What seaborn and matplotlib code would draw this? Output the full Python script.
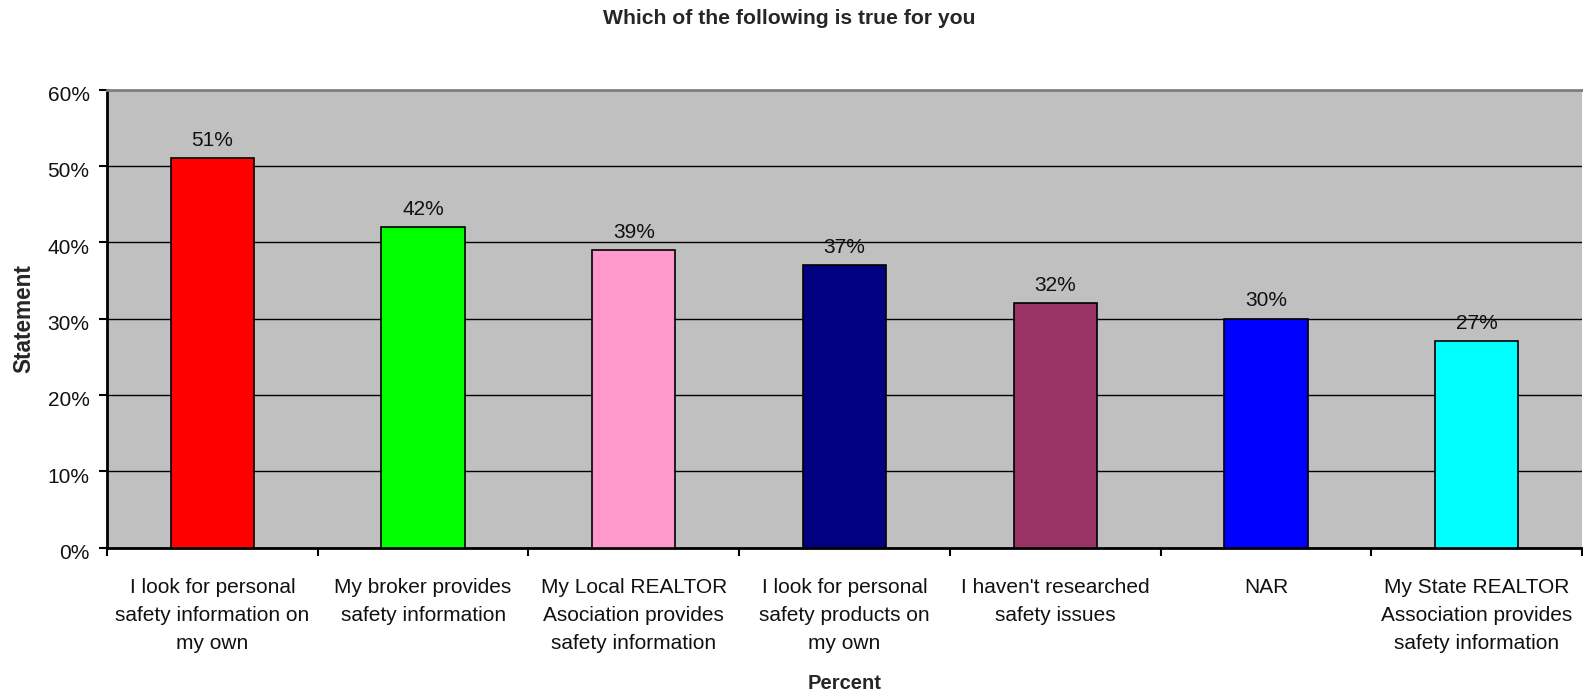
import matplotlib
matplotlib.use("Agg")
import matplotlib.pyplot as plt
import matplotlib.transforms as mtransforms
import seaborn as sns
import pandas as pd
from matplotlib.ticker import FuncFormatter, MultipleLocator, FixedLocator

categories = [
    "I look for personal\nsafety information on\nmy own",
    "My broker provides\nsafety information",
    "My Local REALTOR\nAsociation provides\nsafety information",
    "I look for personal\nsafety products on\nmy own",
    "I haven't researched\nsafety issues",
    "NAR",
    "My State REALTOR\nAssociation provides\nsafety information",
]
values = [51, 42, 39, 37, 32, 30, 27]
bar_colors = ["#FF0000", "#00FF00", "#FF99CC", "#000080", "#993366", "#0000FF", "#00FFFF"]

df = pd.DataFrame({"statement": categories, "percent": values})

sns.set_theme(style="white")
plt.rcParams["font.family"] = ["Liberation Sans", "DejaVu Sans"]

W, H = 1583, 694
fig = plt.figure(figsize=(W / 100, H / 100), dpi=100)
ax = fig.add_axes([107 / W, 1 - 547.5 / H, 1475 / W, 458 / H])
ax.set_facecolor("#C0C0C0")

sns.barplot(data=df, x="statement", y="percent", hue="statement",
            palette=bar_colors, saturation=1, legend=False, width=0.395,
            edgecolor="black", linewidth=1.2, ax=ax, zorder=3)

ax.set_ylim(0, 60)
ax.set_xlim(-0.5, len(categories) - 0.5)
ax.yaxis.set_major_locator(MultipleLocator(10))
ax.yaxis.set_major_formatter(FuncFormatter(lambda v, p: f"{v:.0f}%"))
ax.grid(axis="y", color="black", linewidth=1.0, zorder=1)
ax.set_axisbelow(True)

# category labels centred under bars; tick marks at category boundaries
ax.tick_params(axis="x", which="major", bottom=False, length=0, pad=22, labelsize=15)
ax.xaxis.set_minor_locator(FixedLocator([i - 0.5 for i in range(len(categories) + 1)]))
ax.tick_params(axis="x", which="minor", bottom=True, length=5.5, width=1.5,
               color="black", direction="out")
ax.tick_params(axis="y", which="major", left=True, length=5.5, width=1.5, color="black",
               direction="out", labelsize=15, pad=7)
for lbl in ax.get_xticklabels():
    lbl.set_linespacing(1.59)
    lbl.set_color("#111111")
shift = mtransforms.ScaledTranslation(0, -4 / 100, fig.dpi_scale_trans)
for lbl in ax.get_yticklabels():
    lbl.set_color("#111111")
    lbl.set_transform(lbl.get_transform() + shift)

for side in ["left", "bottom"]:
    ax.spines[side].set_color("black")
    ax.spines[side].set_linewidth(2)
ax.spines["top"].set_color("#808080")
ax.spines["top"].set_linewidth(2)
ax.spines["right"].set_visible(False)

for i, v in enumerate(values):
    ax.annotate(f"{v}%", (i, v), xytext=(0, 8.8), textcoords="offset points",
                ha="center", va="baseline", fontsize=15, color="#111111")

ax.set_ylabel("Statement", fontsize=16.3, fontweight="bold")
ax.set_xlabel("Percent", fontsize=14.5, fontweight="bold")
ax.yaxis.set_label_coords(-(107 - 23.5) / 1475, 0.5)
ax.yaxis.label.set_va("center")
ax.xaxis.label.set_va("baseline")
ax.xaxis.set_label_coords(0.5, (547.5 - 689) / 458)
fig.suptitle("Which of the following is true for you", fontsize=15.2,
             fontweight="bold", x=0.4985, y=1 - 18.5 / H, va="center")

fig.savefig("out.png", dpi=100)
